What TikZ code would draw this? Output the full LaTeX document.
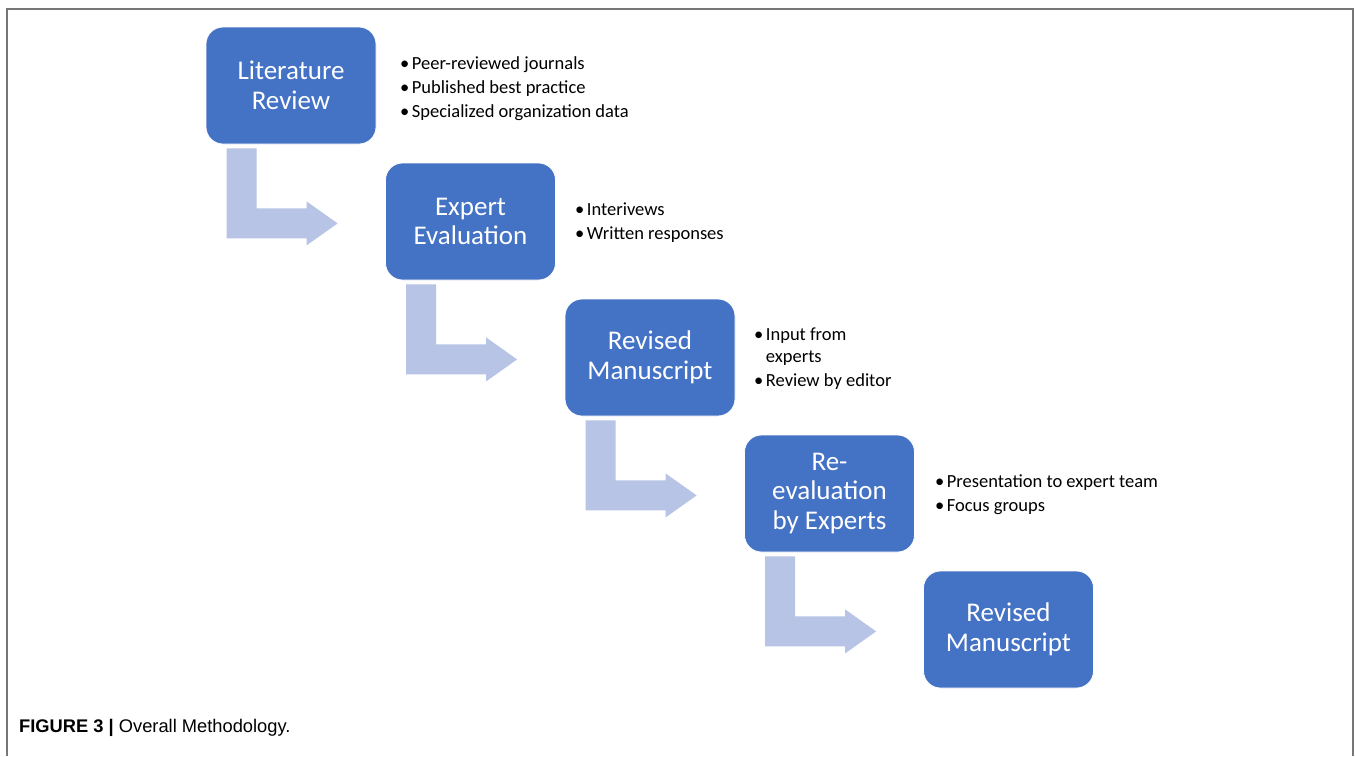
\documentclass[tikz,border=0pt]{standalone}
\usepackage{fontspec}
\setmainfont{Carlito}
\newfontfamily\capfont{Liberation Sans}
\usetikzlibrary{calc}
\definecolor{boxblue}{HTML}{4472C4}
\definecolor{arrowblue}{HTML}{B7C4E5}
\definecolor{framegray}{HTML}{777777}
\newcommand\bentarr[1]{%
  \fill[arrowblue]
    ($(#1.south west)+(21,4)$) -- ($(#1.south west)+(51,4)$) --
    ($(#1.south west)+(51,64)$) -- ($(#1.south west)+(101,64)$) --
    ($(#1.south west)+(101,57)$) -- ($(#1.south west)+(132,79)$) --
    ($(#1.south west)+(101,101)$) -- ($(#1.south west)+(101,94)$) --
    ($(#1.south west)+(21,94)$) -- cycle;}
\begin{document}
\begin{tikzpicture}[x=1pt,y=-1pt,
  stepbox/.style={rectangle, rounded corners=17pt, fill=boxblue, draw=white, line width=0.8pt,
    minimum width=170pt, minimum height=117pt, inner sep=0pt, text=white, align=center,
    font=\fontsize{27}{29.5}\selectfont},
  bullets/.style={anchor=base west, inner sep=0pt, text=black, font=\fontsize{18.5}{24}\selectfont}]
\useasboundingbox (0,0) rectangle (1355,756);
\fill[white] (0,0) rectangle (1355,756);
\draw[framegray, line width=2pt] (7,756) -- (7,8.5) -- (1353,8.5) -- (1353,756);

\node[stepbox] (b1) at (291,85.5) {Literature\\Review};
\node[stepbox] (b2) at (470.5,221.5) {Expert\\Evaluation};
\node[stepbox] (b3) at (650,357.5) {Revised\\Manuscript};
\node[stepbox] (b4) at (829.5,493.5) {Re-\\evaluation\\by Experts};
\node[stepbox] (b5) at (1008.5,629.5) {Revised\\Manuscript};

\bentarr{b1}
\bentarr{b2}
\bentarr{b3}
\bentarr{b4}

\node[bullets] (l1) at (400,69) {\begin{tabular}[t]{@{}l@{\hspace{2.5pt}}l@{}}
\textbullet & Peer-reviewed journals\\
\textbullet & Published best practice\\
\textbullet & Specialized organization data
\end{tabular}};
\node[bullets] (l2) at (575,215) {\begin{tabular}[t]{@{}l@{\hspace{2.5pt}}l@{}}
\textbullet & Interivews\\
\textbullet & Written responses
\end{tabular}};
\node[bullets] (l3) at (754,340) {\begin{tabular}[t]{@{}l@{\hspace{2.5pt}}l@{}}
\textbullet & Input from\\[-2pt]
 & experts\\
\textbullet & Review by editor
\end{tabular}};
\node[bullets] (l4) at (935,487) {\begin{tabular}[t]{@{}l@{\hspace{2.5pt}}l@{}}
\textbullet & Presentation to expert team\\
\textbullet & Focus groups
\end{tabular}};

\node[anchor=west, inner sep=0pt, font=\capfont\fontsize{18.3}{21}\selectfont] (cap) at (19,728)
  {\textbf{FIGURE 3 |} Overall Methodology.};
\end{tikzpicture}
\end{document}
